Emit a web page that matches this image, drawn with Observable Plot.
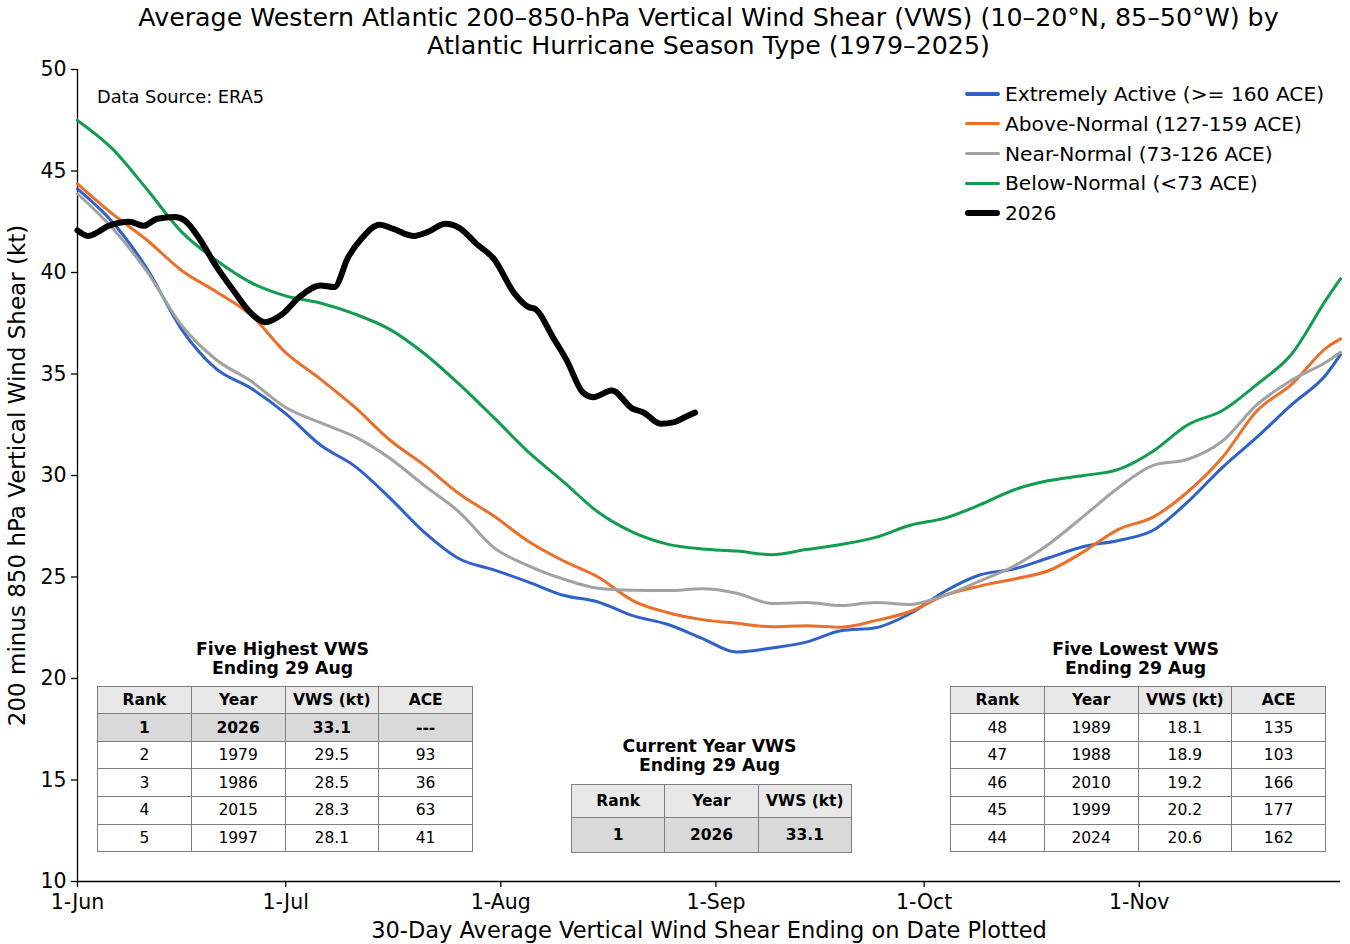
<!DOCTYPE html>
<html><head><meta charset="utf-8">
<script src="https://cdn.jsdelivr.net/npm/d3@7"></script>
<script src="https://cdn.jsdelivr.net/npm/@observablehq/plot@0.6"></script>
<style>
body{margin:0;background:#fff;font-family:"DejaVu Sans",sans-serif;color:#000;}
#wrap{position:relative;width:1350px;height:944px;overflow:hidden;background:#fff;}
#title{height:62px;width:1263px;margin-left:77px;text-align:center;font-size:25.3px;line-height:28px;padding-top:4px;box-sizing:border-box;white-space:nowrap;}
#chart svg{display:block;}
.abs{position:absolute;}
.tbl{border-collapse:collapse;table-layout:fixed;font-size:15.5px;text-align:center;}
.tbl td{border:1.5px solid #7f7f7f;padding:0;}
.ttl{font-weight:bold;font-size:17.3px;line-height:19px;text-align:center;white-space:nowrap;}
.leg{font-size:20.2px;line-height:30px;white-space:nowrap;}
.leg div{display:flex;align-items:center;height:29.8px;}
.leg span.sw{display:inline-block;width:35px;margin-right:5px;border-radius:3px;}
</style></head><body>
<div id="wrap">
  <div id="title"></div>
  <div id="chart"></div>
</div>
<script>
// ---------- data ----------
const titleLines = ["Average Western Atlantic 200–850-hPa Vertical Wind Shear (VWS) (10–20°N, 85–50°W) by",
                    "Atlantic Hurricane Season Type (1979–2025)"];
const xLabel = "30-Day Average Vertical Wind Shear Ending on Date Plotted";
const yLabel = "200 minus 850 hPa Vertical Wind Shear (kt)";
const yTicks = [10, 15, 20, 25, 30, 35, 40, 45, 50];
const seriesNames = ["Extremely Active (>= 160 ACE)", "Above-Normal (127-159 ACE)", "Near-Normal (73-126 ACE)", "Below-Normal (<73 ACE)", "2026"];
const seriesColors = ["#2f62c8", "#ea702a", "#a2a2a2", "#119c4f", "#000000"];

// days after 1 June
const days = [0,5,10,15,20,25,30,35,40,45,50,55,60,65,70,75,80,85,90,95,100,105,110,115,120,125,130,135,140,145,150,155,160,165,170,175,180,182];
const extremelyActive = [44.12,42.5,40.2,37.2,35.25,34.3,33.05,31.5,30.45,28.9,27.2,25.9,25.35,24.75,24.1,23.77,23.1,22.67,21.98,21.3,21.5,21.79,22.35,22.5,23.2,24.3,25.1,25.4,25.95,26.5,26.8,27.3,28.7,30.4,31.9,33.5,35.0,35.95];
const aboveNormal     = [44.37,42.9,41.6,40.1,39.05,37.9,36.05,34.75,33.35,31.75,30.5,29.1,28.0,26.75,25.8,25.0,23.84,23.25,22.9,22.72,22.55,22.6,22.53,22.85,23.3,24.1,24.55,24.9,25.32,26.25,27.35,27.95,29.2,30.9,33.2,34.5,36.3,36.73];
const nearNormal      = [43.88,42.2,40.05,37.4,35.7,34.65,33.35,32.6,31.9,30.85,29.5,28.2,26.45,25.55,24.9,24.45,24.35,24.33,24.42,24.2,23.7,23.75,23.6,23.75,23.65,24.1,24.8,25.55,26.63,28.0,29.4,30.5,30.8,31.7,33.5,34.7,35.6,36.07];
const belowNormal     = [47.49,46.1,44.1,42.0,40.6,39.5,38.85,38.5,37.95,37.2,36.0,34.5,32.85,31.15,29.7,28.2,27.21,26.62,26.38,26.28,26.1,26.35,26.6,26.95,27.55,27.9,28.55,29.3,29.75,30.0,30.3,31.2,32.5,33.2,34.5,36.0,38.7,39.69];

const days2026 = [0,1.5,3,4.5,7.5,9.5,11.5,14,15.5,17.5,20,22.5,25,27,29.5,32,35,37,39,41,43.5,45.5,48.5,50.5,53,55,57.5,60,63,65,66,68.5,70.5,72.8,74.3,77,80,81.5,84,86,87.5,89];
const vws2026  = [42.07,41.8,42.0,42.3,42.5,42.3,42.65,42.73,42.55,41.7,40.3,39.1,38.0,37.55,37.95,38.8,39.36,39.28,40.75,41.7,42.35,42.15,41.8,42.0,42.4,42.2,41.41,40.67,38.95,38.3,38.2,36.81,35.67,34.1,33.86,34.19,33.29,33.12,32.55,32.63,32.87,33.1];

const dataSource = "Data Source: ERA5";

const highTitle = ["Five Highest VWS", "Ending 29 Aug"];
const highHeader = ["Rank", "Year", "VWS (kt)", "ACE"];
const highRank = ["1", "2", "3", "4", "5"];
const highYear = ["2026", "1979", "1986", "2015", "1997"];
const highVWS  = ["33.1", "29.5", "28.5", "28.3", "28.1"];
const highACE  = ["---", "93", "36", "63", "41"];

const curTitle = ["Current Year VWS", "Ending 29 Aug"];
const curHeader = ["Rank", "Year", "VWS (kt)"];
const curRow = ["1", "2026", "33.1"];

const lowTitle = ["Five Lowest VWS", "Ending 29 Aug"];
const lowHeader = ["Rank", "Year", "VWS (kt)", "ACE"];
const lowRank = ["48", "47", "46", "45", "44"];
const lowYear = ["1989", "1988", "2010", "1999", "2024"];
const lowVWS  = ["18.1", "18.9", "19.2", "20.2", "20.6"];
const lowACE  = ["135", "103", "166", "177", "162"];

// ---------- build ----------
const start = new Date(Date.UTC(2026, 5, 1));
const toDate = d => new Date(start.getTime() + d * 864e5);
const end = toDate(182);
const monthTicks = d3.utcMonth.range(start, end);

document.getElementById("title").innerHTML = titleLines.join("<br>");

const climo = [extremelyActive, aboveNormal, nearNormal, belowNormal];
const lineMarks = climo.map((vals, k) =>
  Plot.line(days.map((d, i) => ({date: toDate(d), v: vals[i]})),
    {x: "date", y: "v", stroke: seriesColors[k], strokeWidth: 3, curve: "monotone-x"}));
const black = Plot.line(days2026.map((d, i) => ({date: toDate(d), v: vws2026[i]})),
    {x: "date", y: "v", stroke: seriesColors[4], strokeWidth: 6, curve: "monotone-x", strokeLinecap: "round", strokeLinejoin: "round"});

const chart = Plot.plot({
  width: 1350, height: 882,
  marginTop: 7, marginBottom: 63, marginLeft: 77, marginRight: 10,
  x: {type: "utc", domain: [start, end]},
  y: {domain: [10, 50]},
  style: {fontFamily: "DejaVu Sans", fontSize: "20px", color: "#000", background: "#fff", overflow: "visible"},
  marks: [
    Plot.axisY({ticks: yTicks, tickSize: 6, tickPadding: 5, label: null, fontSize: 20.5, strokeWidth: 1.3}),
    Plot.axisX({ticks: monthTicks, tickFormat: d3.utcFormat("%-d-%b"), tickSize: 6, tickPadding: 7, label: null, fontSize: 20.5, strokeWidth: 1.3}),
    Plot.ruleY([10], {stroke: "#000", strokeWidth: 1.3}),
    Plot.ruleX([start], {stroke: "#000", strokeWidth: 1.3}),
    ...lineMarks,
    black,
    Plot.text([xLabel], {frameAnchor: "bottom", dy: 49, fontSize: 22.5, lineAnchor: "middle"}),
    Plot.text([yLabel], {frameAnchor: "left", dx: -60, rotate: -90, fontSize: 23, textAnchor: "middle"})
  ]
});
document.getElementById("chart").appendChild(chart);

const wrap = document.getElementById("wrap");
function addDiv(html, style, cls) {
  const d = document.createElement("div");
  d.className = "abs" + (cls ? " " + cls : "");
  Object.assign(d.style, style);
  d.innerHTML = html;
  wrap.appendChild(d);
  return d;
}

// data source note
addDiv(dataSource, {left: "97px", top: "86px", fontSize: "17.8px"});

// legend
addDiv(seriesNames.map((n, k) =>
  `<div><span class="sw" style="background:${seriesColors[k]};height:${k === 4 ? 6 : 3.5}px"></span>${n}</div>`).join(""),
  {left: "965px", top: "79px"}, "leg");

function table(left, top, width, title, titleTop, header, rows, rowBg, rowBold, hh, rh) {
  addDiv(title.join("<br>"), {left: (left - 20) + "px", top: titleTop + "px", width: (width + 40) + "px"}, "ttl");
  const cw = width / header.length;
  let h = `<table class="tbl" style="width:${width}px">`;
  h += `<tr style="background:#e8e8e8;font-weight:bold;height:${hh}px">` + header.map(c => `<td style="width:${cw}px">${c}</td>`).join("") + "</tr>";
  rows.forEach((r, i) => {
    h += `<tr style="background:${rowBg[i]};font-weight:${rowBold[i] ? "bold" : "normal"};height:${rh}px">` + r.map(c => `<td>${c}</td>`).join("") + "</tr>";
  });
  h += "</table>";
  addDiv(h, {left: left + "px", top: top + "px"});
}

const highRows = highRank.map((r, i) => [r, highYear[i], highVWS[i], highACE[i]]);
table(97, 686, 371, highTitle, 640, highHeader, highRows,
  highRows.map((_, i) => i === 0 ? "#d9d9d9" : "#fff"), highRows.map((_, i) => i === 0), 27.3, 27.6);

table(571, 784, 277, curTitle, 737, curHeader, [curRow], ["#d9d9d9"], [true], 33, 34.5);

const lowRows = lowRank.map((r, i) => [r, lowYear[i], lowVWS[i], lowACE[i]]);
table(950, 686, 371, lowTitle, 640, lowHeader, lowRows,
  lowRows.map(() => "#fff"), lowRows.map(() => false), 27.3, 27.6);
</script>
</body></html>
